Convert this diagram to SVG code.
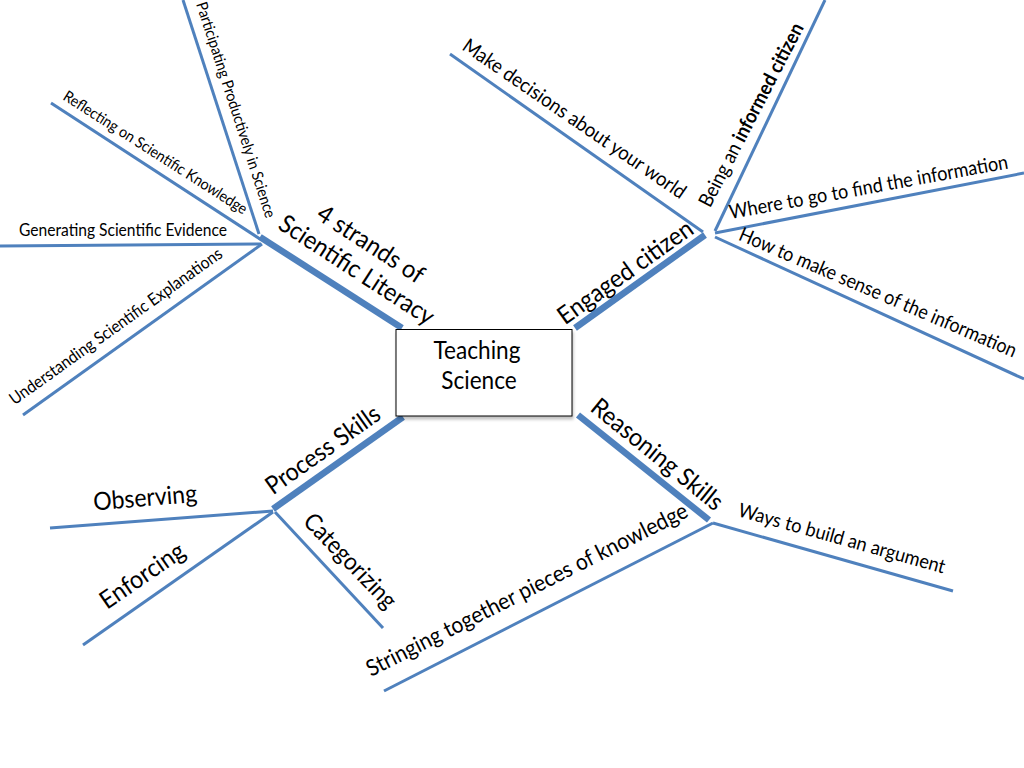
<svg xmlns="http://www.w3.org/2000/svg" width="1024" height="768" viewBox="0 0 1024 768">
<defs>
<style>
.thin{stroke:#4f81bd;stroke-width:3;fill:none;stroke-linecap:butt}
.thick{stroke:#4f81bd;stroke-width:6.5;fill:none;stroke-linecap:butt}
text{font-family:Lato,"Carlito","Open Sans",sans-serif;fill:#000}
.s11{font-size:15.5px}
.s12{font-size:17px}
.s14{font-size:19.9px}
.s16{font-size:22.7px}
.s18{font-size:25px}
</style>
<filter id="sh" x="-10%" y="-10%" width="120%" height="130%">
<feGaussianBlur in="SourceAlpha" stdDeviation="1.5"/>
<feOffset dx="1" dy="2.5" result="b"/>
<feComponentTransfer><feFuncA type="linear" slope="0.25"/></feComponentTransfer>
<feMerge><feMergeNode/><feMergeNode in="SourceGraphic"/></feMerge>
</filter>
</defs>
<rect width="1024" height="768" fill="#fff"/>

<g id="connectors">
<line class="thick" x1="260" y1="237" x2="402" y2="328"/>
<line class="thick" x1="575" y1="328" x2="705" y2="235"/>
<line class="thick" x1="273" y1="509" x2="403" y2="417"/>
<line class="thick" x1="578" y1="415" x2="709" y2="520"/>
<line class="thin" x1="183" y1="0" x2="259" y2="234"/>
<line class="thin" x1="51" y1="103" x2="260" y2="239"/>
<line class="thin" x1="0" y1="246" x2="261" y2="244"/>
<line class="thin" x1="23" y1="415" x2="262" y2="244"/>
<line class="thin" x1="450" y1="54" x2="703" y2="232"/>
<line class="thin" x1="825" y1="0" x2="715" y2="231"/>
<line class="thin" x1="715" y1="233" x2="1024" y2="173"/>
<line class="thin" x1="715" y1="237" x2="1024" y2="379"/>
<line class="thin" x1="50" y1="528" x2="273" y2="511"/>
<line class="thin" x1="83" y1="645" x2="273" y2="512"/>
<line class="thin" x1="275" y1="512" x2="383" y2="628"/>
<line class="thin" x1="713" y1="523" x2="953" y2="591"/>
<line class="thin" x1="384" y1="691" x2="713" y2="523"/>
</g>

<g id="center">
<rect x="396" y="329.5" width="176" height="86.5" fill="#fff" stroke="#000" stroke-width="1" filter="url(#sh)"/>
<text class="s18" x="477" y="358.5" text-anchor="middle" textLength="87" lengthAdjust="spacingAndGlyphs" style="font-size:24.5px">Teaching</text>
<text class="s18" x="479" y="389" text-anchor="middle" textLength="75.5" lengthAdjust="spacingAndGlyphs" style="font-size:24.5px">Science</text>
</g>

<g id="strands">
<g transform="translate(276.7 228) rotate(33)">
<text class="s18" x="26.7" y="-29.3" textLength="122" lengthAdjust="spacingAndGlyphs">4 strands of</text>
<text class="s18" x="0" y="0" textLength="180" lengthAdjust="spacingAndGlyphs">Scientific Literacy</text>
</g>
</g>
<g id="participating">
<text class="s11" transform="translate(196 4) rotate(72)" textLength="226" lengthAdjust="spacingAndGlyphs">Participating Productively in Science</text>
</g>
<g id="reflecting">
<text class="s11" transform="translate(62 99) rotate(32.6)" textLength="215" lengthAdjust="spacingAndGlyphs">Reflecting on Scientific Knowledge</text>
</g>
<g id="generating">
<text class="s12" x="19" y="235.5" textLength="208" lengthAdjust="spacingAndGlyphs">Generating Scientific Evidence</text>
</g>
<g id="understanding">
<text class="s12" transform="translate(14.5 405.5) rotate(-35.5)" textLength="257" lengthAdjust="spacingAndGlyphs">Understanding Scientific Explanations</text>
</g>

<g id="engaged">
<text class="s18" transform="translate(565 325.5) rotate(-35.5)" textLength="160" lengthAdjust="spacingAndGlyphs">Engaged citizen</text>
</g>
<g id="decisions">
<text class="s14" transform="translate(461 49) rotate(34.5)" textLength="266" lengthAdjust="spacingAndGlyphs">Make decisions about your world</text>
</g>
<g id="informed">
<text class="s14" transform="translate(710 208.5) rotate(-62.5)" textLength="204" lengthAdjust="spacingAndGlyphs">Being an <tspan font-weight="bold">informed citizen</tspan></text>
</g>
<g id="where">
<text class="s14" transform="translate(730.5 219) rotate(-10.3)" textLength="283" lengthAdjust="spacingAndGlyphs">Where to go to find the information</text>
</g>
<g id="how">
<text class="s14" transform="translate(737.5 239.5) rotate(23.2)" textLength="300" lengthAdjust="spacingAndGlyphs">How to make sense of the information</text>
</g>

<g id="process">
<text class="s18" transform="translate(273 495.5) rotate(-35.3)" textLength="134" lengthAdjust="spacingAndGlyphs">Process Skills</text>
</g>
<g id="observing">
<text class="s18" transform="translate(94 510.5) rotate(-4.8)" textLength="104" lengthAdjust="spacingAndGlyphs">Observing</text>
</g>
<g id="enforcing">
<text class="s18" transform="translate(107 610) rotate(-34.5)" textLength="97" lengthAdjust="spacingAndGlyphs">Enforcing</text>
</g>
<g id="categorizing">
<text class="s18" transform="translate(302 522.5) rotate(46)" textLength="122" lengthAdjust="spacingAndGlyphs" style="font-size:24px">Categorizing</text>
</g>

<g id="reasoning">
<text class="s18" transform="translate(589 410) rotate(39)" textLength="162" lengthAdjust="spacingAndGlyphs">Reasoning Skills</text>
</g>
<g id="ways">
<text class="s14" transform="translate(737 516) rotate(15.6)" textLength="214" lengthAdjust="spacingAndGlyphs" style="font-size:19.5px">Ways to build an argument</text>
</g>
<g id="stringing">
<text class="s16" transform="translate(371 677) rotate(-26.8)" textLength="357" lengthAdjust="spacingAndGlyphs">Stringing together pieces of knowledge</text>
</g>
</svg>
